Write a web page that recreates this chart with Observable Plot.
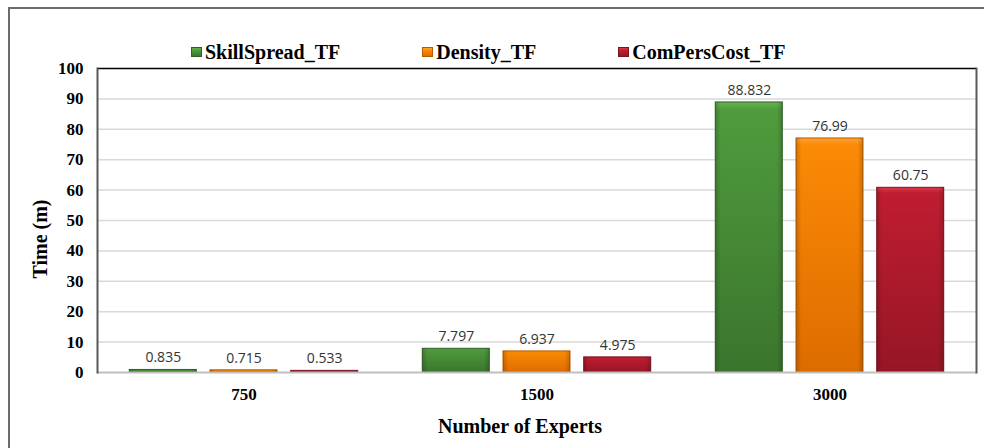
<!DOCTYPE html>
<html><head><meta charset="utf-8">
<script src="https://cdn.jsdelivr.net/npm/d3@7"></script>
<script src="https://cdn.jsdelivr.net/npm/@observablehq/plot@0.6"></script>
<style>
html,body{margin:0;padding:0;background:#fff;}
#wrap{position:relative;width:984px;height:448px;overflow:hidden;font-family:"Liberation Serif",serif;color:#000;}
#border{position:absolute;left:8px;top:7px;width:1100px;height:600px;border:2px solid #6b6b6b;box-sizing:border-box;}
#chart{position:absolute;left:0;top:0;}
#legend{position:absolute;left:191px;top:40px;display:flex;gap:82px;align-items:center;}
.lg{font-family:"Liberation Serif",serif;font-weight:bold;font-size:20px;line-height:24px;white-space:nowrap;display:flex;align-items:center;}
.sw{display:inline-block;width:11px;height:10px;margin-right:3px;box-sizing:border-box;}
.title{position:absolute;font-family:"Liberation Serif",serif;font-weight:bold;font-size:20px;white-space:nowrap;line-height:24px;}
</style></head>
<body>
<div id="wrap">
  <div id="border"></div>
  <svg width="0" height="0" style="position:absolute"><defs id="defs"></defs></svg>
  <div id="chart"></div>
  <div id="legend"></div>
  <div class="title" id="ytitle" style="left:40px;top:239px;transform:translate(-50%,-50%) rotate(-90deg);">Time (m)</div>
  <div class="title" id="xtitle" style="left:520px;top:426px;transform:translate(-50%,-50%);">Number of Experts</div>
</div>
<script>
// ---- data ----
const categories = [750, 1500, 3000];
const series = ["SkillSpread_TF", "Density_TF", "ComPersCost_TF"];
const skillSpread = [0.835, 7.797, 88.832];
const density = [0.715, 6.937, 76.99];
const comPersCost = [0.533, 4.975, 60.75];
const yTicks = [0, 10, 20, 30, 40, 50, 60, 70, 80, 90, 100];

// ---- styles ----
const topColors = ["#66b251", "#ffa332", "#dc3a4c"];
const midColors = ["#4f9b3d", "#fb8a06", "#bf1d30"];
const botColors = ["#3b752d", "#dd6c00", "#961626"];
const edgeColors = ["#2f5f24", "#b85a00", "#7a1220"];

const values = [skillSpread, density, comPersCost];
const rows = categories.flatMap((c, i) => series.map((s, j) => ({category: c, series: s, value: values[j][i]})));

// gradients
const defs = d3.select("#defs");
series.forEach((s, j) => {
  const g = defs.append("linearGradient").attr("id", "grad" + j).attr("x1", 0).attr("y1", 0).attr("x2", 0).attr("y2", 1);
  g.append("stop").attr("offset", "0%").attr("stop-color", topColors[j]);
  g.append("stop").attr("offset", "3%").attr("stop-color", midColors[j]);
  g.append("stop").attr("offset", "100%").attr("stop-color", botColors[j]);
  const h = defs.append("linearGradient").attr("id", "hgrad" + j).attr("x1", 0).attr("y1", 0).attr("x2", 1).attr("y2", 0);
  h.append("stop").attr("offset", "0%").attr("stop-color", "#000").attr("stop-opacity", 0.18);
  h.append("stop").attr("offset", "8%").attr("stop-color", "#000").attr("stop-opacity", 0);
  h.append("stop").attr("offset", "92%").attr("stop-color", "#000").attr("stop-opacity", 0);
  h.append("stop").attr("offset", "100%").attr("stop-color", "#000").attr("stop-opacity", 0.18);
});

// legend
const legend = d3.select("#legend");
series.forEach((s, j) => {
  const item = legend.append("div").attr("class", "lg");
  item.append("span").attr("class", "sw")
    .style("background", `linear-gradient(${topColors[j]}, ${midColors[j]} 30%, ${botColors[j]})`)
    .style("border", `1px solid ${edgeColors[j]}`);
  item.append("span").text(s);
});

const barMarks = series.flatMap((s, j) => {
  const d = rows.filter(r => r.series === s);
  return [
    Plot.barY(d, {fx: "category", x: "series", y: "value", fill: `url(#grad${j})`, stroke: edgeColors[j], strokeWidth: 1}),
    Plot.barY(d, {fx: "category", x: "series", y: "value", fill: `url(#hgrad${j})`})
  ];
});

const chart = Plot.plot({
  width: 984,
  height: 448,
  marginLeft: 96,
  marginRight: 7,
  marginTop: 68,
  marginBottom: 76,
  fx: {domain: categories, padding: 0, label: null},
  x: {domain: series, paddingInner: 0.17, paddingOuter: 0.4, axis: null, round: false},
  y: {domain: [0, 100], axis: null},
  style: {fontFamily: "'Liberation Serif', serif", background: "transparent", color: "#000"},
  marks: [
    Plot.ruleY(yTicks.filter(t => t > 0 && t < 100), {stroke: "#d9d9d9", strokeWidth: 1.5}),
    Plot.ruleY([100], {stroke: "#000", strokeWidth: 1.5}),
    ...barMarks,
    Plot.ruleY([0], {stroke: "#bfbfbf", strokeWidth: 2}),
    Plot.frame({anchor: "left", facetAnchor: "left", stroke: "#595959", strokeWidth: 2}),
    Plot.frame({anchor: "right", facetAnchor: "right", stroke: "#595959", strokeWidth: 2}),
    Plot.axisY({ticks: yTicks, tickSize: 0, tickPadding: 14, fontSize: 17, fontWeight: "bold", label: null}),
    Plot.axisFx({anchor: "bottom", tickSize: 0, tickPadding: 15, fontSize: 17, fontWeight: "bold", label: null, tickFormat: d => String(d)}),
    Plot.text(rows, {fx: "category", x: "series", y: "value", text: d => String(d.value), dy: -12, fontSize: 14, fill: "#333333", fontFamily: "'Open Sans', sans-serif"})
  ]
});
document.getElementById("chart").appendChild(chart);
</script>
</body></html>
